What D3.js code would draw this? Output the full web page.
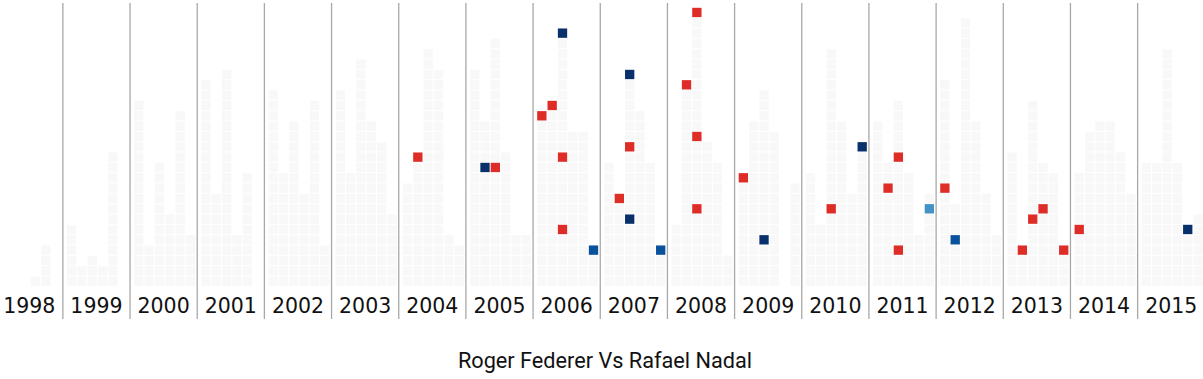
<!DOCTYPE html>
<html>
<head>
<meta charset="utf-8">
<script src="https://cdn.jsdelivr.net/npm/d3@7"></script>
<style>
  html, body { margin: 0; padding: 0; background: #fff; }
  svg { display: block; }
</style>
</head>
<body>
<svg id="chart" width="1203" height="379"></svg>
<script>
// ---- data ----
const years = [1998,1999,2000,2001,2002,2003,2004,2005,2006,2007,2008,2009,2010,2011,2012,2013,2014,2015];
const periods = [0,1,2,3,4,5];
// matches played per two-month period, per year
const matchCounts = [
  [0,0,0,1,4,0],
  [6,2,3,2,13,0],
  [18,4,12,7,17,5],
  [20,9,21,5,11,0],
  [19,11,16,9,18,4],
  [19,11,22,16,14,7],
  [10,13,23,21,5,4],
  [21,16,24,13,5,5],
  [17,18,25,15,15,4],
  [12,9,21,17,12,4],
  [6,20,27,14,12,3],
  [11,16,19,15,0,10],
  [11,6,23,16,9,14],
  [16,12,18,11,5,9],
  [20,8,26,16,9,5],
  [13,4,18,12,11,4],
  [11,15,16,16,13,9],
  [12,12,23,12,6,7]
];
// head-to-head matches: year, period, position in the stack, outcome class
const h2hYear   = [2004,2005,2005,2006,2006,2006,2006,2006,2006,2007,2007,2007,2007,2007,2008,2008,2008,2008,2009,2009,2010,2010,2011,2011,2011,2011,2012,2012,2013,2013,2013,2013,2014,2015];
const h2hPeriod = [1,1,2,0,1,2,2,2,5,1,2,2,2,5,1,2,2,2,0,2,2,5,1,2,2,5,0,1,1,2,3,5,0,4];
const h2hRow    = [12,11,11,16,17,24,12,5,3,8,20,13,6,3,19,26,14,7,10,4,7,13,9,12,3,7,9,4,3,6,7,3,5,5];
const h2hResult = ["nadal","federerA","nadal","nadal","nadal","federerA","nadal","nadal","federerB","nadal","federerA","nadal","federerA","federerB","nadal","nadal","nadal","nadal","nadal","federerA","nadal","federerA","nadal","nadal","nadal","federerC","nadal","federerB","nadal","nadal","nadal","nadal","nadal","federerA"];
const title = "Roger Federer Vs Rafael Nadal";

// ---- scales ----
const svg = d3.select("#chart");
const x = d3.scaleBand().domain(years).range([-4.3, 1204.8]);
const xs = d3.scaleBand().domain(periods).range([3.6, 65.6]).paddingInner(0.1).paddingOuter(0.05);
const rowH = 10.333;
const y = d3.scaleLinear().domain([0, 28]).range([286.3, 286.3 - 28 * rowH]);
const color = d3.scaleOrdinal()
  .domain(["nadal","federerA","federerB","federerC"])
  .range(["#de2d26","#08306b","#08519c","#4292c6"]);

// background cells
const cells = [];
years.forEach((yr, i) => {
  periods.forEach(p => {
    for (let r = 0; r < matchCounts[i][p]; r++) cells.push({yr, p, r});
  });
});
svg.append("g").selectAll("rect").data(cells).join("rect")
  .attr("x", d => x(d.yr) + xs(d.p))
  .attr("y", d => y(d.r + 1) + 0.5)
  .attr("width", xs.bandwidth())
  .attr("height", rowH - 1)
  .attr("fill", "#f8f8f8");

// head to head
const h2h = h2hYear.map((yr, i) => ({yr, p: h2hPeriod[i], r: h2hRow[i], res: h2hResult[i]}));
svg.append("g").selectAll("rect").data(h2h).join("rect")
  .attr("x", d => x(d.yr) + xs(d.p))
  .attr("y", d => y(d.r + 1) + 0.5)
  .attr("width", xs.bandwidth())
  .attr("height", rowH - 1)
  .attr("fill", d => color(d.res));

// separators
svg.append("g").selectAll("line").data(years.slice(1)).join("line")
  .attr("x1", d => x(d)).attr("x2", d => x(d))
  .attr("y1", 3).attr("y2", 319)
  .attr("stroke", "#a8a8a8").attr("stroke-width", 1.3);

// year labels
svg.append("g").selectAll("text").data(years).join("text")
  .attr("x", d => x(d) + x.bandwidth() / 2)
  .attr("y", 313)
  .attr("text-anchor", "middle")
  .attr("font-family", "DejaVu Sans, sans-serif")
  .attr("font-size", 20.5)
  .attr("fill", "#111")
  .text(d => d);

// title
svg.append("text")
  .attr("x", 605).attr("y", 367.5)
  .attr("text-anchor", "middle")
  .attr("font-family", "Roboto, sans-serif")
  .attr("font-size", 21.7)
  .attr("fill", "#111")
  .text(title);
</script>
</body>
</html>
